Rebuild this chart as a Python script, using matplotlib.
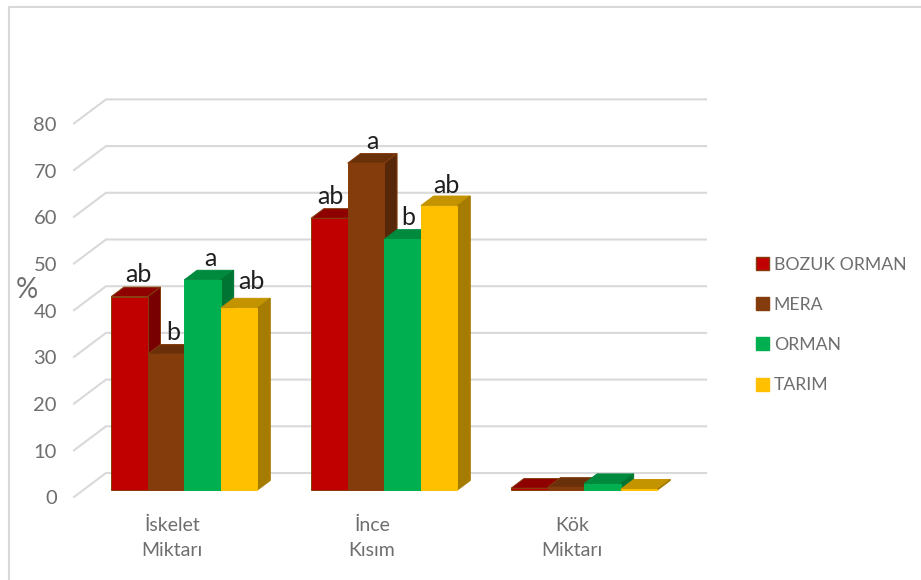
import matplotlib
matplotlib.use("Agg")
import matplotlib.pyplot as plt
from matplotlib.patches import Polygon, Patch
from matplotlib.lines import Line2D

plt.rcParams['font.family'] = ['Lato', 'DejaVu Sans']

# Chart data
categories = ["İskelet\nMiktarı", "İnce\nKısım", "Kök\nMiktarı"]
series_names = ["BOZUK ORMAN", "MERA", "ORMAN", "TARIM"]
bozuk_orman = [41.4, 58.2, 0.4]
mera = [29.1, 70.0, 0.6]
orman = [45.0, 53.7, 1.4]
tarim = [39.0, 60.9, 0.2]
y_ticks = [0, 10, 20, 30, 40, 50, 60, 70, 80]
letters = [["ab", "ab", ""], ["b", "a", ""], ["a", "b", ""], ["ab", "ab", ""]]
series_values = [bozuk_orman, mera, orman, tarim]

# Face colours per series: front, top, side; only the first two carry a brown outline
front_colors = ["#C00000", "#843C0C", "#00B050", "#FFC000"]
top_colors = ["#8F0000", "#6A300A", "#008A3E", "#C49300"]
side_colors = ["#780000", "#562708", "#007433", "#A67C00"]
edge_colors = ["#843C0C", "#843C0C", None, None]

# Pixel scales of the oblique projection
W, H = 921, 580
PX_PER_CAT = 200.0
PX_PER_VAL = 4.67
ORIGIN_X, ORIGIN_Y = 74.0, 497.0   # front corner of the floor
DEPTH_X, DEPTH_Y = 32.0, 24.0      # full depth offset of the chart box
BAR_NEAR, BAR_FAR = 0.29, 0.69     # bar depth inside the box
BAR_W = 0.183                      # bar width in category units
BAR_SHIFT = 0.005                  # small shift of the bar groups to the right
GRID = "#D9D9D9"
TEXT = "#6E6E6E"

fig = plt.figure(figsize=(W / 100, H / 100), dpi=100, facecolor="white")
ax = fig.add_axes([0, 0, 1, 1])
ax.set_xlim(-(ORIGIN_X) / PX_PER_CAT, (W - ORIGIN_X) / PX_PER_CAT)
ax.set_ylim(-(H - ORIGIN_Y) / PX_PER_VAL, ORIGIN_Y / PX_PER_VAL)
ax.axis("off")


def project(x, v, d):
    """Map category position, value and depth to the oblique plane."""
    return (x + d * DEPTH_X / PX_PER_CAT, v + d * DEPTH_Y / PX_PER_VAL)


# Chart frame on the left and top
frame_x = 8.5 / W
frame_y = 1 - 6.5 / H
fig.add_artist(Line2D([frame_x, frame_x, 1], [0, frame_y, frame_y], color=GRID,
                      lw=1.5, transform=fig.transFigure))

# Gridlines with their diagonal leader on the wall edge
n_cat = len(categories)
for t in y_ticks:
    pts = [project(0, t, 0), project(0, t, 1), project(n_cat, t, 1)]
    ax.plot([p[0] for p in pts], [p[1] for p in pts], color=GRID, lw=1.5,
            solid_joinstyle="miter", zorder=1)
    ax.annotate(str(t), xy=project(0, t, 0), xytext=(-17, -2),
                textcoords="offset pixels", ha="right", va="center",
                fontsize=14.5, color=TEXT)

# Bars, drawn left to right so each front hides its neighbour's side
z = 2
for i in range(n_cat):
    center = i + 0.5 + BAR_SHIFT
    for j, values in enumerate(series_values):
        v = values[i]
        x0 = center + (j - 2) * BAR_W
        x1 = x0 + BAR_W
        top = [project(x0, v, BAR_NEAR), project(x1, v, BAR_NEAR),
               project(x1, v, BAR_FAR), project(x0, v, BAR_FAR)]
        side = [project(x1, 0, BAR_NEAR), project(x1, v, BAR_NEAR),
                project(x1, v, BAR_FAR), project(x1, 0, BAR_FAR)]
        front = [project(x0, 0, BAR_NEAR), project(x1, 0, BAR_NEAR),
                 project(x1, v, BAR_NEAR), project(x0, v, BAR_NEAR)]
        for poly, col in ((top, top_colors[j]), (side, side_colors[j]),
                          (front, front_colors[j])):
            ax.add_patch(Polygon(poly, closed=True, facecolor=col,
                                 edgecolor=edge_colors[j] or col, lw=0.7,
                                 zorder=z))
        z += 1

# Significance letters above the bars
nudges = {(0, 0): (3, 0), (1, 0): (1, -1), (2, 0): (2, -1), (3, 0): (6, 4),
          (0, 1): (-5, -1), (1, 1): (0, -1), (2, 1): (-1, -1), (3, 1): (1, -2)}
for j, values in enumerate(series_values):
    for i, v in enumerate(values):
        if not letters[j][i]:
            continue
        x0 = i + 0.5 + (j - 2) * BAR_W
        nx, ny = nudges[(j, i)]
        ax.annotate(letters[j][i], xy=project(x0 + BAR_W / 2, v, BAR_FAR),
                    xytext=(nx - 5.5, 13 + ny), textcoords="offset pixels",
                    ha="center", va="center", fontsize=18, color="#1F1F1F",
                    zorder=50)

# Category labels under the floor
for i, label in enumerate(categories):
    ax.annotate(label, xy=project(i + 0.5, 0, 0), xytext=(-2, -41),
                textcoords="offset pixels", ha="center", va="center",
                fontsize=14, color=TEXT, linespacing=1.62)

# Axis unit
ax.text(27 / W, 1 - 290 / H, "%", transform=ax.transAxes, ha="center",
        va="center", fontsize=20, color=TEXT)

# Legend
handles = [Patch(facecolor=front_colors[j],
                 edgecolor=edge_colors[j] or front_colors[j], lw=1.0)
           for j in range(len(series_names))]
ax.legend(handles, series_names, loc="center left",
          bbox_to_anchor=(749 / W, 1 - 325 / H), frameon=False, fontsize=12.7,
          labelcolor=TEXT, handlelength=0.75, handleheight=0.75,
          handletextpad=0.25, labelspacing=1.37, borderpad=0, borderaxespad=0.4)

fig.savefig("out.png", dpi=100)
